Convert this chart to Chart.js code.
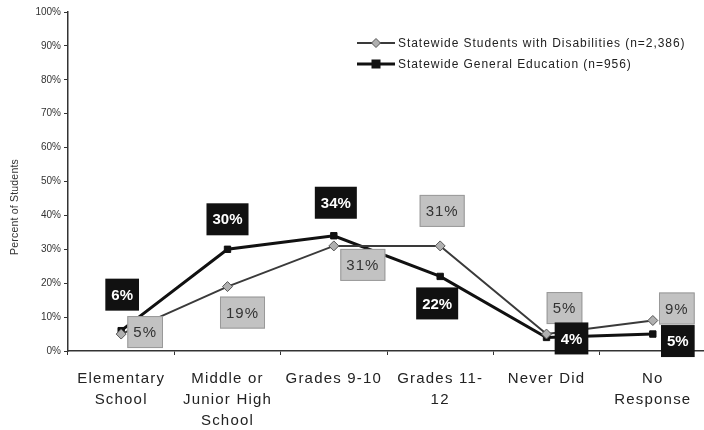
<!DOCTYPE html>
<html>
<head>
<meta charset="utf-8">
<script src="https://cdn.jsdelivr.net/npm/chart.js@4"></script>
<style>
  html, body { margin: 0; padding: 0; background: #fff; overflow: hidden; }
  #wrap { width: 704px; height: 430px; overflow: hidden; }
</style>
</head>
<body>
<div id="wrap"><canvas id="chart" width="712" height="430"></canvas></div>
<script>
// --- dados do gráfico ---
const categories = [
    ['Elementary', 'School'],
    ['Middle or', 'Junior High', 'School'],
    'Grades 9-10',
    ['Grades 11-', '12'],
    'Never Did',
    ['No', 'Response']
];
const disabilitiesLabel = 'Statewide Students with Disabilities (n=2,386)';
const generalLabel = 'Statewide General Education (n=956)';
const disabilitiesValues = [5, 19, 31, 31, 5, 9];
const generalValues = [6, 30, 34, 22, 4, 5];
const yTicks = [0, 10, 20, 30, 40, 50, 60, 70, 80, 90, 100];
const yTitle = 'Percent of Students';

// deslocamento das caixas de rótulo em relação ao ponto (x, y)
const disabilitiesBoxOffsets = [[24, -2], [15, 26], [29, 19], [2, -35], [18, -26], [24, -12]];
const generalBoxOffsets = [[1, -36], [0, -30], [2, -33], [-3, 27], [25, 1], [25, 7]];

const FONT = 'Arial, "Liberation Sans", sans-serif';

// caixas com os valores
const boxLabels = {
    id: 'boxLabels',
    afterDatasetsDraw(chart) {
        const ctx = chart.ctx;
        chart.data.datasets.forEach((ds, di) => {
            const meta = chart.getDatasetMeta(di);
            meta.data.forEach((pt, i) => {
                const off = ds.boxOffsets[i];
                const cx = pt.x + off[0];
                const cy = pt.y + off[1];
                const text = ds.data[i] + '%';
                ctx.save();
                ctx.font = (ds.boxDark ? 'bold ' : '') + '15px ' + FONT;
                ctx.letterSpacing = ds.boxDark ? '0px' : '1px';
                const w = ctx.measureText(text).width + 12;
                const h = 32;
                ctx.fillStyle = ds.boxDark ? '#111' : '#c2c2c2';
                ctx.fillRect(cx - w / 2, cy - h / 2, w, h);
                if (!ds.boxDark) {
                    ctx.strokeStyle = '#999';
                    ctx.lineWidth = 1;
                    ctx.strokeRect(cx - w / 2 + 0.5, cy - h / 2 + 0.5, w - 1, h - 1);
                }
                ctx.fillStyle = ds.boxDark ? '#fff' : '#333';
                ctx.textAlign = 'center';
                ctx.textBaseline = 'middle';
                ctx.fillText(text, cx, cy + 1);
                ctx.restore();
            });
        });
    }
};

// legenda desenhada à mão (linha + marcador) e título do eixo Y
const lineLegend = {
    id: 'lineLegend',
    afterDraw(chart) {
        const ctx = chart.ctx;
        const x0 = 357, x1 = 395;
        chart.data.datasets.forEach((ds, di) => {
            const y = 43 + di * 21;
            ctx.save();
            ctx.strokeStyle = ds.borderColor;
            ctx.lineWidth = ds.borderWidth;
            ctx.beginPath();
            ctx.moveTo(x0, y);
            ctx.lineTo(x1, y);
            ctx.stroke();
            ctx.fillStyle = ds.pointBackgroundColor;
            ctx.strokeStyle = ds.pointBorderColor;
            ctx.lineWidth = 1;
            const mx = (x0 + x1) / 2;
            if (ds.pointStyle === 'rect') {
                ctx.fillRect(mx - 4.5, y - 4.5, 9, 9);
            } else {
                ctx.beginPath();
                ctx.moveTo(mx, y - 4.5);
                ctx.lineTo(mx + 4.5, y);
                ctx.lineTo(mx, y + 4.5);
                ctx.lineTo(mx - 4.5, y);
                ctx.closePath();
                ctx.fill();
                ctx.stroke();
            }
            ctx.font = '12px ' + FONT;
            ctx.letterSpacing = '0.95px';
            ctx.fillStyle = '#222';
            ctx.textBaseline = 'middle';
            ctx.fillText(ds.label, x1 + 3, y + 1);
            ctx.restore();
        });

        // título do eixo Y
        ctx.save();
        ctx.translate(15, 207);
        ctx.rotate(-Math.PI / 2);
        ctx.font = '10.5px ' + FONT;
        ctx.letterSpacing = '0.2px';
        ctx.fillStyle = '#333';
        ctx.textAlign = 'center';
        ctx.textBaseline = 'middle';
        ctx.fillText(yTitle, 0, 0);
        ctx.restore();
    }
};

// espaçamento de letras só nos rótulos do eixo X
const spacedText = {
    id: 'spacedText',
    beforeDraw(chart) {
        const xs = chart.scales.x;
        if (xs._spaced) return;
        xs._spaced = true;
        const orig = xs.drawLabels.bind(xs);
        xs.drawLabels = (area) => {
            chart.ctx.letterSpacing = '1.2px';
            orig(area);
            chart.ctx.letterSpacing = '0px';
        };
    }
};

new Chart(document.getElementById('chart'), {
    type: 'line',
    data: {
        labels: categories,
        datasets: [
            {
                label: disabilitiesLabel,
                data: disabilitiesValues,
                borderColor: '#3a3a3a',
                borderWidth: 2,
                pointStyle: 'rectRot',
                pointRadius: 5,
                pointBackgroundColor: '#b0b0b0',
                pointBorderColor: '#555',
                pointBorderWidth: 1,
                tension: 0,
                boxDark: false,
                boxOffsets: disabilitiesBoxOffsets
            },
            {
                label: generalLabel,
                data: generalValues,
                borderColor: '#111',
                borderWidth: 3,
                pointStyle: 'rect',
                pointRadius: 4.5,
                pointBackgroundColor: '#111',
                pointBorderColor: '#111',
                pointBorderWidth: 1,
                tension: 0,
                boxDark: true,
                boxOffsets: generalBoxOffsets
            }
        ]
    },
    options: {
        responsive: false,
        animation: false,
        layout: { padding: { top: 12, right: 2, left: 0, bottom: 0 } },
        plugins: {
            legend: { display: false },
            tooltip: { enabled: false }
        },
        scales: {
            x: {
                offset: true,
                grid: {
                    display: true,
                    offset: true,
                    drawOnChartArea: false,
                    drawTicks: true,
                    tickLength: 4,
                    color: '#333'
                },
                border: { display: true, color: '#333', width: 1.5 },
                ticks: {
                    color: '#222',
                    font: { family: FONT, size: 15, lineHeight: 1.42 },
                    padding: 13,
                    maxRotation: 0,
                    autoSkip: false
                },
                afterFit(scale) { scale.height = 79; }
            },
            y: {
                min: 0,
                max: 100,
                afterBuildTicks(scale) { scale.ticks = yTicks.map(v => ({ value: v })); },
                grid: {
                    display: true,
                    drawOnChartArea: false,
                    drawTicks: true,
                    tickLength: 4,
                    color: '#333'
                },
                border: { display: true, color: '#333', width: 1.5 },
                ticks: {
                    color: '#333',
                    font: { family: FONT, size: 10 },
                    padding: 3,
                    callback: v => v + '%'
                },
                afterFit(scale) { scale.width = 68; }
            }
        }
    },
    plugins: [spacedText, boxLabels, lineLegend]
});
</script>
</body>
</html>
